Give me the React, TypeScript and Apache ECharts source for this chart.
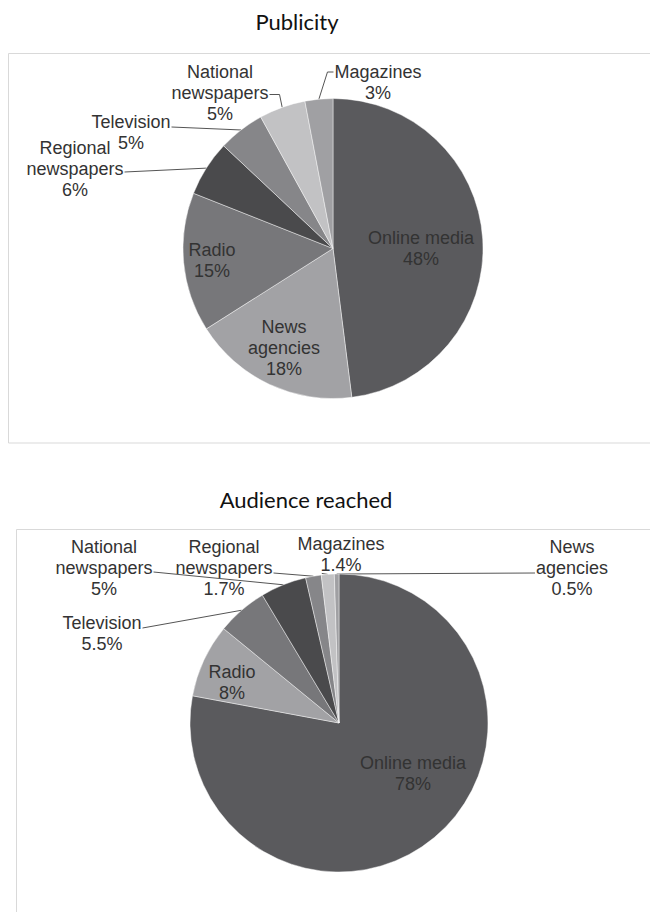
import React, { useEffect, useRef } from 'react';
import * as echarts from 'echarts';

// ---- data ----
const titles = ['Publicity', 'Audience reached'];

const publicityCategories = [
  'Online media',
  'News agencies',
  'Radio',
  'Regional newspapers',
  'Television',
  'National newspapers',
  'Magazines',
];
const publicityValues = [48, 18, 15, 6, 5, 5, 3];

const audienceCategories = [
  'Online media',
  'Radio',
  'Television',
  'National newspapers',
  'Regional newspapers',
  'Magazines',
  'News agencies',
];
const audienceValues = [78, 8, 5.5, 5, 1.7, 1.4, 0.5];

// ---- styles / layout ----
const sliceColors = ['#5a5a5d', '#a2a2a5', '#77777a', '#4a4a4c', '#868689', '#c2c2c4', '#a0a0a3'];
const LINE_H = 21;
const LABEL_FONT = 'Liberation Sans, Arial, sans-serif';

type LabelSpec = {
  x: number;
  y: number;
  line?: 'right' | 'left' | 'stub';
  row?: number;
  dy?: number;
  elbow?: number;
};

const publicityLabels: LabelSpec[] = [
  { x: 421, y: 248.5 },
  { x: 284, y: 347.5 },
  { x: 212, y: 260.5 },
  { x: 75, y: 169, line: 'right', row: 1, dy: 3 },
  { x: 131, y: 132.5, line: 'right', row: 0, dy: 5 },
  { x: 220, y: 92.5, line: 'right', row: 1, dy: 2, elbow: 10 },
  { x: 378, y: 82.5, line: 'left', row: 0, dy: 0, elbow: 6 },
];

const audienceLabels: LabelSpec[] = [
  { x: 413, y: 773 },
  { x: 232, y: 682 },
  { x: 102, y: 633.5, line: 'right', row: 0, dy: 5 },
  { x: 104, y: 568, line: 'right', row: 1, dy: 4 },
  { x: 224, y: 568, line: 'right', row: 1, dy: 5 },
  { x: 341, y: 554.5, line: 'stub' },
  { x: 572, y: 568, line: 'left', row: 1, dy: 5 },
];

const wrapName = (name: string) =>
  name === 'Online media' ? name : name.replace(' ', '\n');

const makeLayout = (specs: LabelSpec[]) => (params: any) => {
  const s = specs[params.dataIndex];
  if (!s) return {};
  const out: any = { x: s.x, y: s.y, align: 'center', verticalAlign: 'middle' };
  const pts = params.labelLinePoints;
  if (s.line && pts && pts.length) {
    const edge = pts[0];
    const w = params.labelRect ? params.labelRect.width : 0;
    const nRows = String(params.text || '').split('\n').length;
    const rowY = s.y + ((s.row ?? 0) - (nRows - 1) / 2) * LINE_H + (s.dy ?? 4);
    let start: number[];
    if (s.line === 'right') start = [s.x + w / 2 + 1, rowY];
    else if (s.line === 'left') start = [s.x - w / 2 - 1, rowY];
    else start = [edge[0] - 6, edge[1] - 1];
    const line: number[][] = [start];
    if (s.elbow) line.push([start[0] + (s.line === 'left' ? -s.elbow : s.elbow), rowY]);
    line.push([edge[0], edge[1]]);
    out.labelLinePoints = line;
  }
  return out;
};

const buildSeries = (
  categories: string[],
  values: number[],
  specs: LabelSpec[],
  center: number[],
  radius: number
) => ({
  type: 'pie',
  center,
  radius,
  startAngle: 90,
  clockwise: true,
  avoidLabelOverlap: false,
  silent: true,
  emphasis: { disabled: true },
  itemStyle: { borderColor: 'rgba(255,255,255,0.55)', borderWidth: 0.8 },
  label: {
    show: true,
    position: 'outside',
    formatter: (p: any) => `${wrapName(p.name)}\n${p.value}%`,
    fontFamily: LABEL_FONT,
    fontSize: 18,
    lineHeight: LINE_H,
    color: '#333333',
  },
  labelLine: {
    show: true,
    length: 10,
    length2: 10,
    smooth: false,
    lineStyle: { color: '#555555', width: 1 },
  },
  labelLayout: makeLayout(specs),
  data: categories.map((name, i) => ({
    name,
    value: values[i],
    itemStyle: { color: sliceColors[i] },
    labelLine: { show: !!specs[i].line },
  })),
});

export default function App() {
  const ref = useRef<HTMLDivElement>(null);

  useEffect(() => {
    if (!ref.current) return;
    const chart = echarts.init(ref.current, undefined, { renderer: 'svg' });
    const titleStyle = (text: string) => ({
      text,
      fontFamily: 'Lato, sans-serif',
      fontSize: 22,
      fill: '#111111',
      align: 'center',
      verticalAlign: 'middle',
      textAlign: 'center',
      textVerticalAlign: 'middle',
    });
    chart.setOption({
      animation: false,
      backgroundColor: '#ffffff',
      graphic: [
        {
          type: 'rect',
          silent: true,
          shape: { x: 8.5, y: 53.5, width: 700, height: 389.5 },
          style: { fill: 'none', stroke: '#d9d9d9', lineWidth: 1 },
        },
        {
          type: 'rect',
          silent: true,
          shape: { x: 16.5, y: 529.5, width: 700, height: 500 },
          style: { fill: 'none', stroke: '#d9d9d9', lineWidth: 1 },
        },
        { type: 'text', x: 297, y: 21, silent: true, style: titleStyle(titles[0]) },
        { type: 'text', x: 306, y: 499, silent: true, style: titleStyle(titles[1]) },
      ],
      series: [
        buildSeries(publicityCategories, publicityValues, publicityLabels, [333, 248.5], 150),
        buildSeries(audienceCategories, audienceValues, audienceLabels, [339, 723], 149),
      ],
    });
    return () => chart.dispose();
  }, []);

  return (
    <div
      ref={ref}
      style={{ position: 'absolute', left: 0, top: 0, width: 650, height: 912 }}
    />
  );
}
